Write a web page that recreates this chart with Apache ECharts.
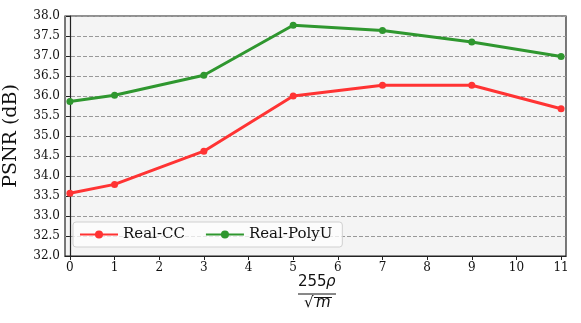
<!DOCTYPE html>
<html><head><meta charset="utf-8">
<script src="https://cdn.jsdelivr.net/npm/echarts@6/dist/echarts.min.js"></script>
<style>html,body{margin:0;padding:0;background:#fff}#c{width:581px;height:323px}</style>
</head><body><div id="c"></div>
<script>
const xValues = [0, 1, 3, 5, 7, 9, 11];
const realCC = [33.57, 33.79, 34.62, 36.0, 36.27, 36.27, 35.68];
const realPolyU = [35.86, 36.02, 36.52, 37.77, 37.64, 37.35, 36.99];
const xTicks = [0,1,2,3,4,5,6,7,8,9,10,11];
const seriesNames = ['Real-CC', 'Real-PolyU'];
const seriesColors = ['#ff3333', '#2f972f'];

const chart = echarts.init(document.getElementById('c'));
const serif = 'DejaVu Serif';
const mk = (vals) => xValues.map((x, i) => [x, vals[i]]);
chart.setOption({
  animation: false,
  grid: {left: 65, right: 15, top: 16, bottom: 67, outerBoundsMode: 'none', containLabel: false, show: true, backgroundColor: '#f4f4f4', borderColor: '#222', borderWidth: 1.2},
  xAxis: {
    type: 'value', min: -0.11, max: 11.11,
    axisLine: {show: true, lineStyle: {color: '#222', width: 1.2}},
    axisTick: {show: true, customValues: xTicks, length: 4, lineStyle: {color: '#222'}},
    axisLabel: {customValues: xTicks, fontFamily: serif, fontSize: 12, color: '#111', margin: 6},
    splitLine: {show: false}
  },
  yAxis: {
    type: 'value', min: 32, max: 38, interval: 0.5,
    name: 'PSNR (dB)', nameLocation: 'middle', nameGap: 44,
    nameTextStyle: {fontFamily: serif, fontSize: 19, color: '#111'},
    axisLine: {show: true, lineStyle: {color: '#222', width: 1.2}},
    axisTick: {show: true, length: 4, lineStyle: {color: '#222'}},
    axisLabel: {formatter: v => v.toFixed(1), fontFamily: serif, fontSize: 12, color: '#111', margin: 5},
    splitLine: {show: true, lineStyle: {type: [4, 2], color: '#999', width: 1}}
  },
  legend: {
    left: 73, top: 222, itemWidth: 38, itemHeight: 10, itemGap: 20,
    padding: [5, 10, 5, 6],
    backgroundColor: 'rgba(255,255,255,0.75)', borderColor: '#d0d0d0', borderWidth: 1, borderRadius: 3,
    textStyle: {fontFamily: serif, fontSize: 15, color: '#111'},
    data: seriesNames
  },
  series: seriesNames.map((n, k) => ({
    name: n, type: 'line', data: mk(k === 0 ? realCC : realPolyU),
    symbol: 'circle', symbolSize: 7,
    lineStyle: {width: 3, color: seriesColors[k]},
    itemStyle: {color: seriesColors[k]}
  })),
  graphic: [
    {type: 'text', left: 298, top: 275, style: {text: '255', font: '15px "DejaVu Sans"', fill: '#111'}},
    {type: 'text', left: 326, top: 275, style: {text: 'ρ', font: 'italic 15px "DejaVu Sans"', fill: '#111'}},
    {type: 'line', shape: {x1: 298, y1: 294, x2: 336, y2: 294}, style: {stroke: '#111', lineWidth: 1}},
    {type: 'text', left: 304, top: 296, style: {text: '√', font: '15px "DejaVu Sans"', fill: '#111'}},
    {type: 'text', left: 316, top: 296, style: {text: 'm', font: 'italic 15px "DejaVu Sans"', fill: '#111'}},
    {type: 'line', shape: {x1: 314, y1: 297.5, x2: 332, y2: 297.5}, style: {stroke: '#111', lineWidth: 1}}
  ]
});
</script></body></html>
